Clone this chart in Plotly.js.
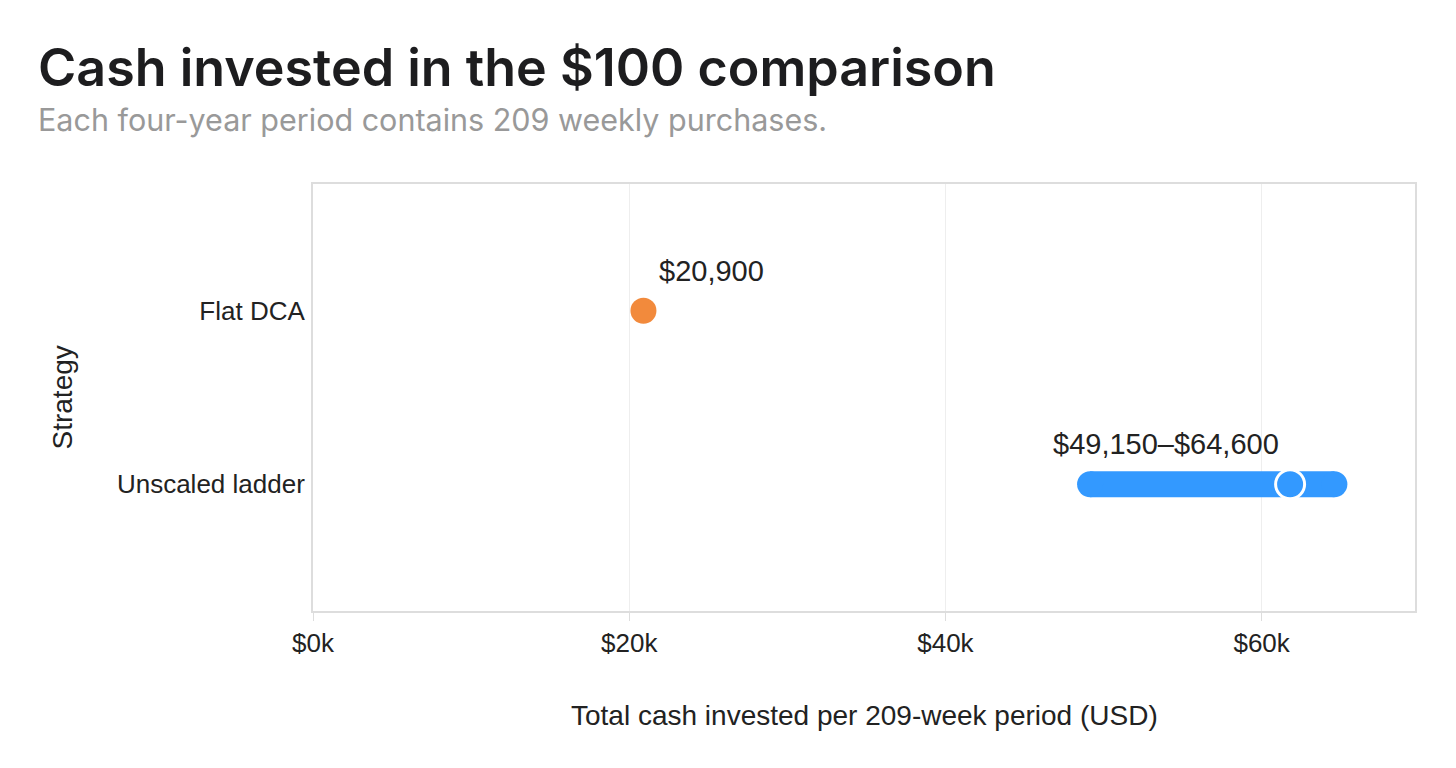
<!DOCTYPE html>
<html>
<head>
<meta charset="utf-8">
<script src="https://cdn.plot.ly/plotly-3.0.1.min.js"></script>
<style>
  html, body { margin: 0; padding: 0; background: #fff; }
  #plot { width: 1456px; height: 768px; }
</style>
</head>
<body>
<div id="plot"></div>
<script>
var strategies = ['Flat DCA', 'Unscaled ladder'];
var flatTotal = [20900];
var ladderLow = [49150];
var ladderHigh = [64600];
var ladderMid = [61800];
var tickVals = [0, 20000, 40000, 60000];
var tickText = ['$0k', '$20k', '$40k', '$60k'];

function money(v) {
    return '$' + v.toLocaleString('en-US');
}

var blue = '#3399ff';
var orange = '#f28a3c';
var sans = 'Liberation Sans, Arial, sans-serif';
var tickFont = {family: sans, size: 26, color: '#222'};
var axisTitleFont = {family: sans, size: 28, color: '#222'};
var valueFont = {family: sans, size: 29, color: '#222'};

// plot area in pixels, used to place the text outside it
var plotW = 1456 - 313 - 41;
var plotH = 768 - 184 - 157;

var data = [
    // ladder range: thick line, round ends drawn as markers
    {
        x: [ladderLow[0], ladderHigh[0]],
        y: [strategies[1], strategies[1]],
        mode: 'lines+markers',
        line: {color: blue, width: 26},
        marker: {color: blue, size: 26},
        hoverinfo: 'skip'
    },
    {
        x: ladderMid,
        y: [strategies[1]],
        mode: 'markers',
        marker: {color: blue, size: 29, line: {color: '#fff', width: 3}}
    },
    {
        x: flatTotal,
        y: [strategies[0]],
        mode: 'markers',
        marker: {color: orange, size: 26}
    }
];

var layout = {
    width: 1456,
    height: 768,
    showlegend: false,
    paper_bgcolor: '#fff',
    plot_bgcolor: '#fff',
    margin: {l: 313, r: 41, t: 184, b: 157},
    xaxis: {
        range: [0, 69700],
        tickvals: tickVals,
        ticktext: tickText,
        tickfont: tickFont,
        ticks: 'outside',
        ticklen: 8,
        tickcolor: '#ddd',
        showline: true,
        linecolor: '#ddd',
        linewidth: 2,
        mirror: true,
        showgrid: true,
        gridcolor: '#eee',
        zeroline: false,
        fixedrange: true
    },
    yaxis: {
        type: 'category',
        categoryarray: strategies,
        range: [1.73, -0.73],
        tickfont: tickFont,
        ticks: '',
        ticklabelstandoff: 1,
        showline: true,
        linecolor: '#ddd',
        linewidth: 2,
        mirror: true,
        showgrid: false,
        zeroline: false,
        fixedrange: true
    },
    annotations: [
        {
            text: 'Cash invested in the $100 comparison',
            x: (36 - 313) / plotW, y: (611 - 68) / plotH,
            xref: 'paper', yref: 'paper',
            xanchor: 'left', yanchor: 'middle',
            showarrow: false,
            font: {family: 'Inter, sans-serif', size: 52, color: '#1d1d1f', weight: 600}
        },
        {
            text: 'Each four-year period contains 209 weekly purchases.',
            x: (36 - 313) / plotW, y: (611 - 119) / plotH,
            xref: 'paper', yref: 'paper',
            xanchor: 'left', yanchor: 'middle',
            showarrow: false,
            font: {family: 'Inter, sans-serif', size: 30.5, color: '#999'}
        },
        {
            text: money(flatTotal[0]),
            x: flatTotal[0], y: strategies[0],
            xref: 'x', yref: 'y',
            xanchor: 'left', yanchor: 'middle',
            xshift: 14, yshift: 40,
            showarrow: false, font: valueFont
        },
        {
            text: money(ladderLow[0]) + '–' + money(ladderHigh[0]),
            x: ladderLow[0], y: strategies[1],
            xref: 'x', yref: 'y',
            xanchor: 'left', yanchor: 'middle',
            xshift: -39, yshift: 40,
            showarrow: false, font: valueFont
        },
        {
            text: 'Total cash invested per 209-week period (USD)',
            x: 0.5, y: -104 / plotH,
            xref: 'paper', yref: 'paper',
            xanchor: 'center', yanchor: 'middle',
            showarrow: false, font: axisTitleFont
        },
        {
            text: 'Strategy',
            x: (62 - 313) / plotW, y: 0.5,
            xref: 'paper', yref: 'paper',
            xanchor: 'center', yanchor: 'middle',
            textangle: -90,
            showarrow: false, font: axisTitleFont
        }
    ]
};

Plotly.newPlot('plot', data, layout, {displayModeBar: false, staticPlot: true});
</script>
</body>
</html>
